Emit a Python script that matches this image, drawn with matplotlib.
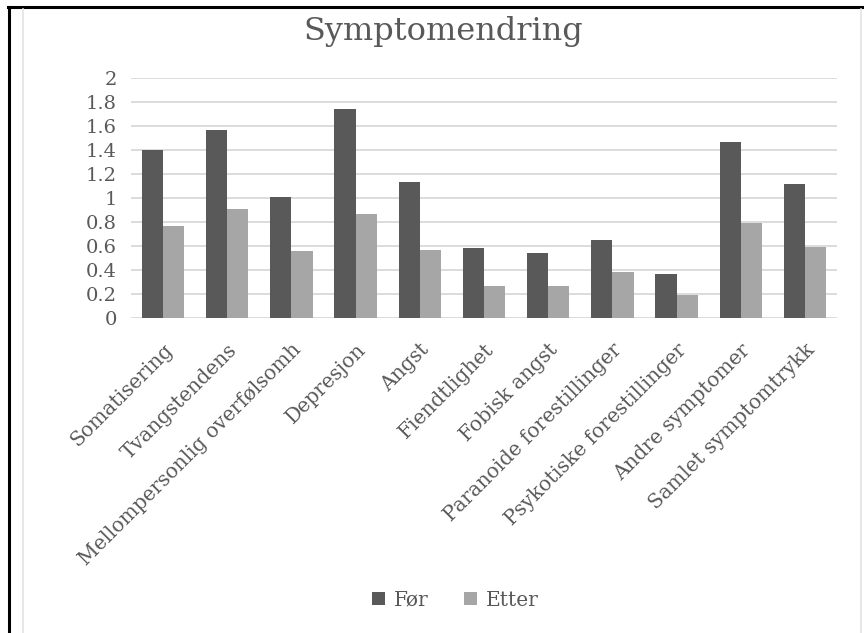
import matplotlib
matplotlib.use("Agg")
import matplotlib.pyplot as plt
import numpy as np
from matplotlib.lines import Line2D

plt.rcParams['font.family'] = ['DejaVu Serif']

categories = ["Somatisering", "Tvangstendens", "Mellompersonlig overfølsomh",
              "Depresjon", "Angst", "Fiendtlighet", "Fobisk angst",
              "Paranoide forestillinger", "Psykotiske forestillinger",
              "Andre symptomer", "Samlet symptomtrykk"]
foer = [1.40, 1.57, 1.01, 1.74, 1.13, 0.58, 0.54, 0.65, 0.37, 1.47, 1.12]
etter = [0.77, 0.91, 0.56, 0.87, 0.57, 0.27, 0.27, 0.38, 0.19, 0.79, 0.59]

text_col = '#595959'
fig = plt.figure(figsize=(8.64, 6.33), dpi=100)
ax = fig.add_axes([0.1516, 0.4976, 0.8172, 0.3792])

x = np.arange(len(categories))
w = 0.33
ax.bar(x - w/2, foer, width=w, color='#595959', label='Før', zorder=3)
ax.bar(x + w/2, etter, width=w, color='#a6a6a6', label='Etter', zorder=3)

ax.set_xlim(-0.5, len(categories) - 0.5)
ax.set_ylim(0, 2)
ax.set_yticks(np.arange(0, 2.01, 0.2))
ax.set_yticklabels(['%g' % round(v, 1) for v in np.arange(0, 2.01, 0.2)],
                   fontsize=14, color=text_col)
ax.set_xticks(x)
ax.set_xticklabels(categories, rotation=45, ha='right', rotation_mode='anchor',
                   fontsize=14.5, color=text_col)
ax.tick_params(axis='both', length=0)
ax.tick_params(axis='y', pad=10)
ax.tick_params(axis='x', pad=16)
ax.grid(axis='y', color='#d9d9d9', linewidth=1.3, zorder=0)
for s in ax.spines.values():
    s.set_visible(False)

fig.suptitle('Symptomendring', x=0.513, y=0.975, fontsize=23, color=text_col)

fig.legend(loc='center', bbox_to_anchor=(0.527, 0.052), ncol=2, frameon=False,
           fontsize=14.5, handlelength=0.65, handleheight=0.65, columnspacing=1.8,
           handletextpad=0.4, labelcolor=text_col)

# outer frame and chart area border
H = 633.0
W = 864.0
fig.add_artist(Line2D([9/W, 9/W], [0, 1 - 7/H], color='black', lw=2.2))
fig.add_artist(Line2D([8/W, 862/W], [1 - 7/H, 1 - 7/H], color='black', lw=2.2))
fig.add_artist(Line2D([23/W, 23/W], [0, 1 - 9/H], color='#e3e3e3', lw=1.2))
fig.add_artist(Line2D([861/W, 861/W], [0, 1 - 9/H], color='#e3e3e3', lw=1.2))

fig.savefig('out.png', dpi=100)
